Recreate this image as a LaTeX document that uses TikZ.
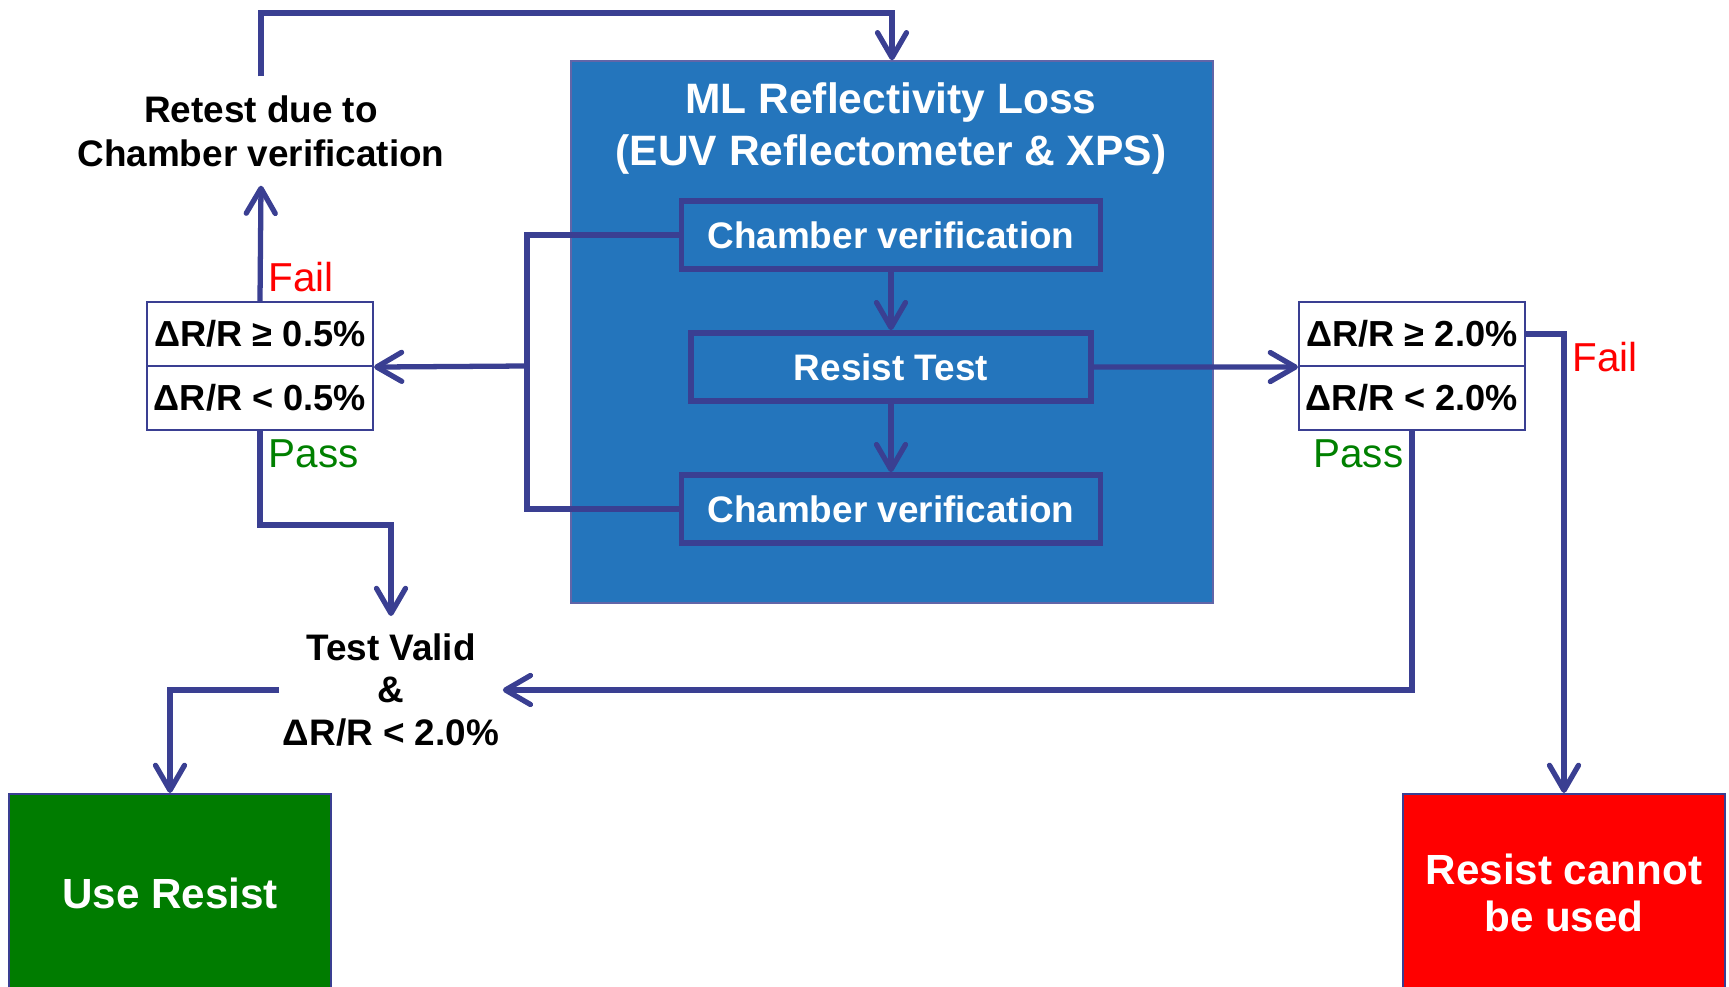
\documentclass[tikz,border=0pt]{standalone}
\usepackage{fontspec}
\setmainfont{Liberation Sans}
\usetikzlibrary{arrows.meta,positioning}

\definecolor{navy}{RGB}{58,63,146}
\definecolor{mlblue}{RGB}{36,117,188}
\definecolor{okgreen}{RGB}{0,124,0}
\definecolor{passgreen}{RGB}{0,128,0}

\tikzset{
  flow/.style={draw=navy, line width=1.5pt, -{Straight Barb[length=2.5mm,width=2.9mm,round]}},
  link/.style={draw=navy, line width=1.5pt},
  stepbox/.style={draw=navy, line width=1.6pt, text=white, inner sep=0pt,
    font=\fontsize{10.5}{12.5}\bfseries\selectfont, minimum width=41.9mm, minimum height=6.8mm},
  condbox/.style={draw=navy, line width=0.6pt, fill=white, inner sep=0pt,
    font=\fontsize{10.3}{12}\bfseries\selectfont, minimum width=22.6mm, minimum height=6.4mm},
  note/.style={align=center, font=\fontsize{10.5}{12.5}\bfseries\selectfont},
  faillbl/.style={text=red, font=\fontsize{11.5}{13}\selectfont, inner sep=0.8mm},
  passlbl/.style={text=passgreen, font=\fontsize{11.5}{13}\selectfont, inner sep=0.8mm},
  outcome/.style={draw=navy, line width=0.6pt, text=white, align=center,
    font=\fontsize{12}{13.4}\bfseries\selectfont, minimum width=32.2mm, minimum height=19.8mm}
}

\begin{document}
\begin{tikzpicture}[x=0.1mm, y=-0.1mm]
  \useasboundingbox (0,0) rectangle (1729,987);

  % Reflectivity loss block
  \node[fill=mlblue, draw=navy!80, line width=0.4pt, minimum width=64.2mm, minimum height=54.2mm] (loss) at (892,332) {};
  \node[text=white, align=center, font=\fontsize{12.1}{14.8}\bfseries\selectfont] (mltitle) at (891,129)
    {ML Reflectivity Loss\\(EUV Reflectometer \& XPS)};
  \node[stepbox] (chamtop) at (891,235) {Chamber verification};
  \node[stepbox, minimum width=40mm] (rtest) at (891,367) {Resist Test};
  \node[stepbox] (chambot) at (891,509) {Chamber verification};

  % Checks
  \node[condbox] (lhigh) at (260,334) {ΔR/R ≥ 0.5\%};
  \node[condbox] (llow) at (260,398) {ΔR/R < 0.5\%};
  \node[condbox] (rhigh) at (1412,334) {ΔR/R ≥ 2.0\%};
  \node[condbox] (rlow) at (1412,398) {ΔR/R < 2.0\%};

  % Texts without a box
  \node[note, inner xsep=0.5mm, inner ysep=1.85mm] (retest) at (261,131) {Retest due to\\Chamber verification};
  \node[note, font=\fontsize{10.5}{12.1}\bfseries\selectfont, inner xsep=0.3mm, inner ysep=1.7mm] (valid) at (391,690)
    {Test Valid\\\&\\ΔR/R < 2.0\%};

  % Outcomes
  \node[outcome, fill=okgreen] (useres) at (170,893) {Use Resist};
  \node[outcome, fill=red] (nouse) at (1564,893) {Resist cannot\\be used};

  % Fail / Pass labels
  \node[faillbl, anchor=south west] (lfaillbl) at (lhigh.north) {Fail};
  \node[passlbl, anchor=north west] (lpasslbl) at (llow.south) {Pass};
  \node[faillbl, anchor=north west] (rfaillbl) at (rhigh.east -| nouse.north) {Fail};
  \node[passlbl, anchor=north east] (rpasslbl) at (rlow.south) {Pass};

  % Connectors
  \coordinate (topbend) at (261,13);
  \coordinate (lbr) at (527,366);
  \draw[flow] (chamtop.south) -- (rtest.north);
  \draw[flow] (rtest.south) -- (chambot.north);
  \draw[link] (chamtop.west) -| (lbr) |- (chambot.west);
  \draw[flow] (lbr) -- (lhigh.south east);
  \draw[flow] (lhigh.north) -- (retest.south);
  \draw[flow] (retest.north) -- (topbend) -| (loss.north);
  \draw[flow] (llow.south) -- ++(0,94) -| (valid.north);
  \draw[flow] (valid.west) -| (useres.north);
  \draw[flow] (rtest.east) -- (rhigh.south west);
  \draw[flow] (rhigh.east) -| (nouse.north);
  \draw[flow] (rlow.south) |- (valid.east);

\end{tikzpicture}
\end{document}
